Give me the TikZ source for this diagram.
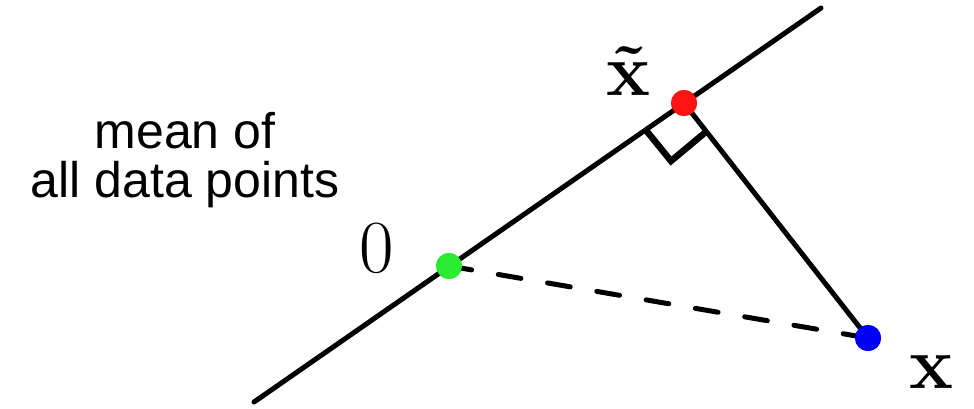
\documentclass[tikz,border=0pt]{standalone}
\usepackage{fontspec}
\newfontfamily\labelfont{Liberation Sans}
\usetikzlibrary{calc}
\definecolor{ptred}{RGB}{255,20,20}
\definecolor{ptgreen}{RGB}{40,235,50}
\definecolor{ptblue}{RGB}{0,0,245}
\tikzset{
  mainline/.style={line width=5pt, line cap=round, black},
  dashline/.style={line width=5pt, line cap=round, black, dash pattern=on 23pt off 27pt},
  anglemark/.style={line width=6.5pt, line join=miter, black},
  dot/.style={circle, inner sep=0pt, minimum size=26pt, draw=none},
  lbl/.style={inner sep=0pt, text=black}
}
\begin{document}
\begin{tikzpicture}[x=1pt,y=-1pt]
  \useasboundingbox (0,0) rectangle (974,408);
  % coordinates
  \coordinate (ll) at (254,402);
  \coordinate (ur) at (821,8);
  \node[dot, fill=ptgreen] (o) at (449,266) {};
  \node[dot, fill=ptred] (r) at (684,103) {};
  \node[dot, fill=ptblue] (b) at (868,338) {};
  \coordinate (ma) at (645,129);
  \coordinate (mc) at (671,161);
  \coordinate (mb) at (707,131);
  % lines
  \draw[mainline] (ll) -- (ur);
  \draw[mainline] (r.center) -- (b.center);
  \draw[dashline] (o.center) -- (b.center);
  \draw[anglemark] (ma) -- (mc) -- (mb);
  % dots on top
  \node[dot, fill=ptgreen] at (o) {};
  \node[dot, fill=ptred] at (r) {};
  \node[dot, fill=ptblue] at (b) {};
  % labels
  \node[lbl, align=center, font=\labelfont\fontsize{50}{49}\selectfont] (mean) at (185,160) {mean of\\all data points};
  \node[lbl, font=\fontsize{75}{75}\selectfont] (zero) at (377,248) {0};
  \node[lbl, anchor=base, font=\bfseries\fontsize{74}{74}\selectfont] (xt) at (628,95) {\~x};
  \node[lbl, anchor=base, font=\bfseries\fontsize{74}{74}\selectfont] (xx) at (931,388) {x};
\end{tikzpicture}
\end{document}
